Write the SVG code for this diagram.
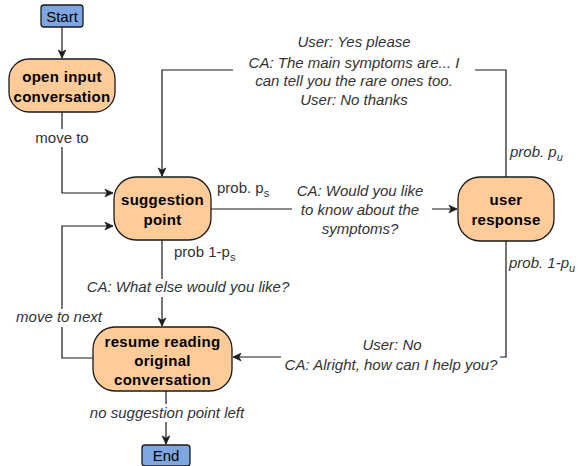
<svg xmlns="http://www.w3.org/2000/svg" width="587" height="466" viewBox="0 0 587 466">
<defs>
<marker id="arr" markerUnits="userSpaceOnUse" markerWidth="10" markerHeight="10" viewBox="0 0 10 10" refX="9" refY="5" orient="auto">
<path d="M1,1.2 L9,5 L1,8.8 L3.2,5 Z" fill="#1a1a1a" stroke="#1a1a1a" stroke-width="0.8"/>
</marker>
<style>
.node{fill:#FFCC99;stroke:#1a1a1a;stroke-width:1.3}
.term{fill:#7EA6E0;stroke:#1a1a1a;stroke-width:1.3}
.nt{font-family:"Liberation Sans",Arial,sans-serif;font-size:15px;font-weight:bold;fill:#000;text-anchor:middle;letter-spacing:0.3px}
.tt{font-family:"Liberation Sans",Arial,sans-serif;font-size:15px;fill:#000;text-anchor:middle}
.edge{fill:none;stroke:#1a1a1a;stroke-width:1.2}
.lbl{font-family:"Liberation Sans",Arial,sans-serif;font-size:15px;fill:#333;text-anchor:middle}
.it{font-style:italic}
.st{text-anchor:start}
.bg{fill:#fff}
</style>
</defs>
<rect width="587" height="466" fill="#fff"/>
<g id="connectors">
<path class="edge" d="M62,27 V58" marker-end="url(#arr)"/>
<path class="edge" d="M62,112 V193 H113" marker-end="url(#arr)"/>
<path class="edge" d="M506,177 V70 H162 V176" marker-end="url(#arr)"/>
<path class="edge" d="M211,209 H457" marker-end="url(#arr)"/>
<path class="edge" d="M162,240 V326" marker-end="url(#arr)"/>
<path class="edge" d="M506,241 V357 H233" marker-end="url(#arr)"/>
<path class="edge" d="M93,358 H62 V226 H113" marker-end="url(#arr)"/>
<path class="edge" d="M166,391 V444" marker-end="url(#arr)"/>
</g>
<g id="labels">
<rect class="bg" x="34" y="129" width="56" height="18"/>
<text class="lbl" x="62" y="143">move to</text>
<rect class="bg" x="233" y="32" width="242" height="76"/>
<text class="lbl it" x="354" y="47">User: Yes please</text>
<text class="lbl it" x="354" y="68">CA: The main symptoms are... I</text>
<text class="lbl it" x="354" y="86">can tell you the rare ones too.</text>
<text class="lbl it" x="354" y="105">User: No thanks</text>
<rect class="bg" x="292" y="181" width="140" height="57"/>
<text class="lbl it" x="360" y="196">CA: Would you like</text>
<text class="lbl it" x="360" y="215">to know about the</text>
<text class="lbl it" x="360" y="234">symptoms?</text>
<text class="lbl st" x="217" y="193">prob. p<tspan font-size="11" dy="4">s</tspan></text>
<text class="lbl st" x="174" y="257">prob 1-p<tspan font-size="11" dy="4">s</tspan></text>
<text class="lbl it st" x="510" y="157">prob. p<tspan font-size="11" dy="4">u</tspan></text>
<text class="lbl it st" x="509" y="268">prob. 1-p<tspan font-size="11" dy="4">u</tspan></text>
<rect class="bg" x="84" y="279" width="208" height="18"/>
<text class="lbl it" x="188" y="292">CA: What else would you like?</text>
<rect class="bg" x="14" y="309" width="92" height="18"/>
<text class="lbl it" x="59" y="322">move to next</text>
<rect class="bg" x="281" y="336" width="219" height="38"/>
<text class="lbl it" x="392" y="350">User: No</text>
<text class="lbl it" x="391" y="370">CA: Alright, how can I help you?</text>
<rect class="bg" x="86" y="404" width="162" height="18"/>
<text class="lbl it" x="167" y="418">no suggestion point left</text>
</g>
<g id="start">
<rect class="term" x="41" y="5" width="42" height="22" rx="3"/>
<text class="tt" x="62" y="21.5">Start</text>
</g>
<g id="open-input">
<rect class="node" x="9" y="59" width="106" height="53" rx="20"/>
<text class="nt" x="62" y="82">open input</text>
<text class="nt" x="62" y="102">conversation</text>
</g>
<g id="suggestion-point">
<rect class="node" x="114" y="177" width="97" height="63" rx="22"/>
<text class="nt" x="162.5" y="205">suggestion</text>
<text class="nt" x="162.5" y="225">point</text>
</g>
<g id="user-response">
<rect class="node" x="458" y="177" width="96" height="64" rx="22"/>
<text class="nt" x="506" y="205">user</text>
<text class="nt" x="506" y="225">response</text>
</g>
<g id="resume-reading">
<rect class="node" x="93" y="327" width="139" height="64" rx="22"/>
<text class="nt" x="162.5" y="347">resume reading</text>
<text class="nt" x="162.5" y="366">original</text>
<text class="nt" x="162.5" y="385">conversation</text>
</g>
<g id="end">
<rect class="term" x="142" y="445" width="48" height="21" rx="3"/>
<text class="tt" x="166" y="461">End</text>
</g>
</svg>
